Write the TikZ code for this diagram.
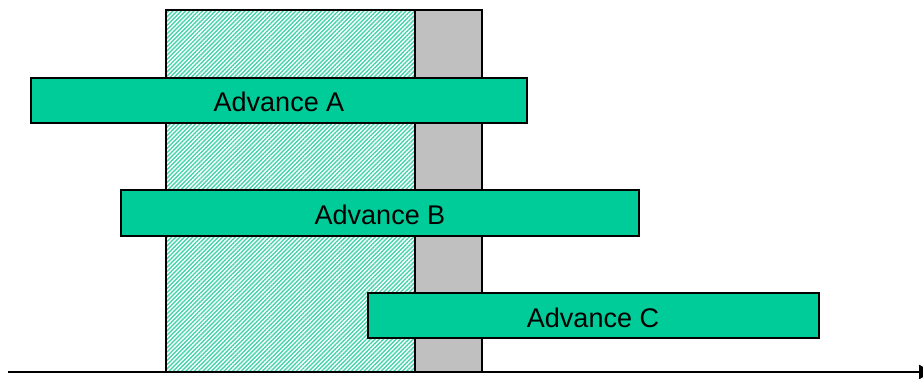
\documentclass[tikz,border=0pt]{standalone}
\usepackage{fontspec}
\setmainfont{Liberation Sans}
\usetikzlibrary{patterns.meta,arrows.meta}
\definecolor{adv}{RGB}{0,204,153}
\definecolor{hatch}{RGB}{70,212,170}
\definecolor{grayband}{RGB}{192,192,192}
\tikzset{
  x=1pt,y=-1pt,
  advbox/.style={draw=black,line width=1.4pt,fill=adv},
  advtext/.style={font=\fontsize{27}{32}\selectfont,text=black,inner sep=0pt},
}
\begin{document}
\begin{tikzpicture}
\useasboundingbox (0,0) rectangle (923,379);
% hatched region
\path[pattern={Lines[angle=45,distance=3pt,line width=1.4pt]},pattern color=hatch] (166,10) rectangle (415,372);
\draw[line width=1.4pt] (166,10) rectangle (415,372);
\node[coordinate] (hatchtl) at (166,10) {};
% gray region
\draw[line width=1.4pt,fill=grayband] (415,10) rectangle (482,372);
% boxes
\draw[advbox] (31,78) rectangle (527,123);
\node[advtext] (A) at (279,102) {Advance A};
\draw[advbox] (121,190) rectangle (639,236);
\node[advtext] (B) at (380,215) {Advance B};
\draw[advbox] (368,293) rectangle (819,338);
\node[advtext] (C) at (593,318) {Advance C};
% axis
\coordinate (axs) at (8,372);
\coordinate (axe) at (936,372);
\draw[line width=1.6pt,-{Latex[length=17pt,width=15pt]}] (axs) -- (axe);
\end{tikzpicture}
\end{document}
